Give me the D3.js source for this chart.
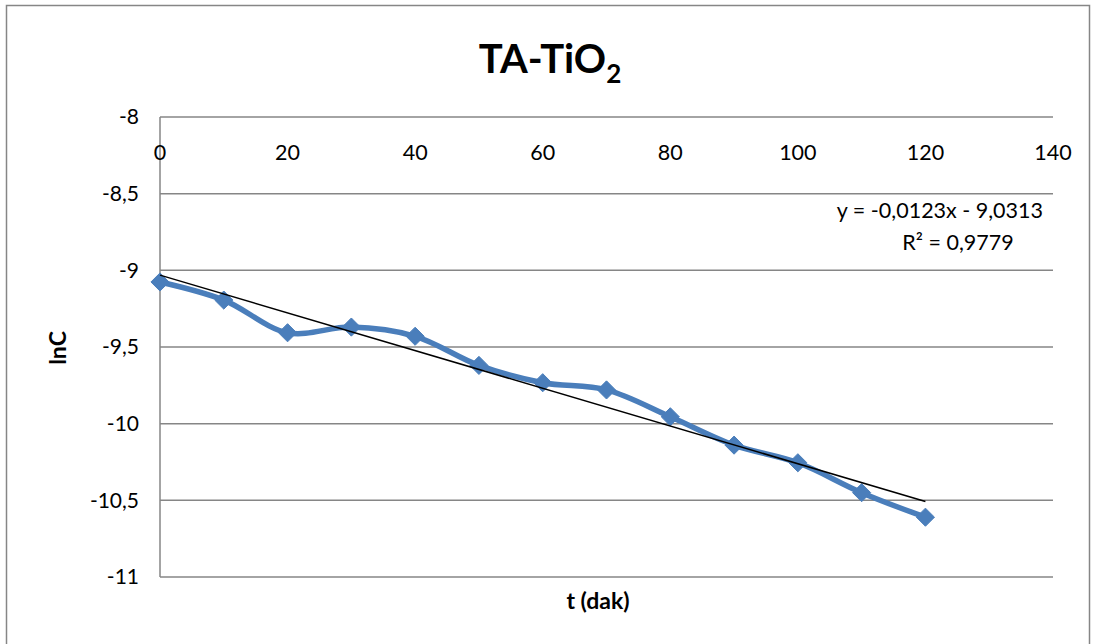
<!DOCTYPE html>
<html>
<head>
<meta charset="utf-8">
<script src="https://cdn.jsdelivr.net/npm/d3@7"></script>
<style>
  html, body { margin: 0; padding: 0; background: #fff; }
  svg { display: block; font-family: Lato, "Open Sans", sans-serif; }
</style>
</head>
<body>
<svg id="chart" width="1096" height="644"></svg>
<script>
// Time (min) and ln of concentration
const times = [0, 10, 20, 30, 40, 50, 60, 70, 80, 90, 100, 110, 120];
const lnC = [-9.076, -9.194, -9.407, -9.37, -9.43, -9.62, -9.733, -9.78, -9.955, -10.14, -10.255, -10.45, -10.61];
const xTicks = [0, 20, 40, 60, 80, 100, 120, 140];
const yTicks = [-8, -8.5, -9, -9.5, -10, -10.5, -11];
const trendSlope = -0.0123;
const trendIntercept = -9.0313;
const trendR2 = 0.9779;

const svg = d3.select("#chart");
const W = 1096, H = 644;
const plot = { left: 160, right: 1053, top: 117, bottom: 577 };

const fmt = v => String(v).replace(".", ",");

// chart frame
svg.append("rect")
  .attr("x", 6.5).attr("y", 5.5)
  .attr("width", W - 13).attr("height", H)
  .attr("fill", "#fff").attr("stroke", "#868686").attr("stroke-width", 1.5);

const x = d3.scaleLinear().domain([0, 140]).range([plot.left, plot.right]);
const y = d3.scaleLinear().domain([-8, -11]).range([plot.top, plot.bottom]);

// horizontal gridlines
svg.append("g")
  .selectAll("line")
  .data(yTicks)
  .join("line")
  .attr("x1", plot.left).attr("x2", plot.right)
  .attr("y1", d => y(d)).attr("y2", d => y(d))
  .attr("stroke", "#868686").attr("stroke-width", 1.5);

// vertical axis line
svg.append("line")
  .attr("x1", x(0)).attr("x2", x(0))
  .attr("y1", plot.top).attr("y2", plot.bottom)
  .attr("stroke", "#868686").attr("stroke-width", 1.5);

// y tick labels
svg.append("g")
  .selectAll("text")
  .data(yTicks)
  .join("text")
  .attr("x", plot.left - 21)
  .attr("y", d => y(d))
  .attr("dy", "0.35em")
  .attr("text-anchor", "end")
  .attr("font-size", 21)
  .attr("fill", "#000")
  .text(d => fmt(d));

// x tick labels (axis crosses at the top)
svg.append("g")
  .selectAll("text")
  .data(xTicks)
  .join("text")
  .attr("x", d => x(d))
  .attr("y", plot.top + 35)
  .attr("dy", "0.35em")
  .attr("text-anchor", "middle")
  .attr("font-size", 21.5)
  .attr("fill", "#000")
  .text(d => d);

// title
const title = svg.append("text")
  .attr("x", 550).attr("y", 73)
  .attr("text-anchor", "middle")
  .attr("font-size", 40)
  .attr("font-weight", "bold")
  .attr("fill", "#000");
title.append("tspan").text("TA-TiO");
title.append("tspan").attr("font-size", 26).attr("dy", 10).text("2");

// axis titles
svg.append("text")
  .attr("x", 598).attr("y", 609)
  .attr("text-anchor", "middle")
  .attr("font-size", 23).attr("font-weight", "bold")
  .text("t (dak)");

svg.append("text")
  .attr("transform", "translate(66,348) rotate(-90)")
  .attr("text-anchor", "middle")
  .attr("font-size", 23).attr("font-weight", "bold")
  .text("lnC");

// data series
const pts = times.map((t, i) => [t, lnC[i]]);
const line = d3.line()
  .x(d => x(d[0])).y(d => y(d[1]))
  .curve(d3.curveCatmullRom.alpha(0.5));

svg.append("path")
  .datum(pts)
  .attr("d", line)
  .attr("fill", "none")
  .attr("stroke", "#4a7ebb")
  .attr("stroke-width", 5.5)
  .attr("stroke-linejoin", "round");

const diamond = d3.symbol().type(d3.symbolDiamond2).size(210);
svg.append("g")
  .selectAll("path")
  .data(pts)
  .join("path")
  .attr("transform", d => `translate(${x(d[0])},${y(d[1])})`)
  .attr("d", diamond)
  .attr("fill", "#4a7ebb")
  .attr("stroke", "#4a7ebb")
  .attr("stroke-width", 1);

// linear trendline
const tx = [0, 120];
svg.append("line")
  .attr("x1", x(tx[0])).attr("y1", y(trendSlope * tx[0] + trendIntercept))
  .attr("x2", x(tx[1])).attr("y2", y(trendSlope * tx[1] + trendIntercept))
  .attr("stroke", "#000").attr("stroke-width", 1.5);

// trendline equation
svg.append("text")
  .attr("x", 1043).attr("y", 218)
  .attr("text-anchor", "end")
  .attr("font-size", 21.5)
  .text(`y = ${fmt(trendSlope)}x - ${fmt(Math.abs(trendIntercept))}`);
svg.append("text")
  .attr("x", 958).attr("y", 250)
  .attr("text-anchor", "middle")
  .attr("font-size", 21.5)
  .text(`R² = ${fmt(trendR2)}`);
</script>
</body>
</html>
